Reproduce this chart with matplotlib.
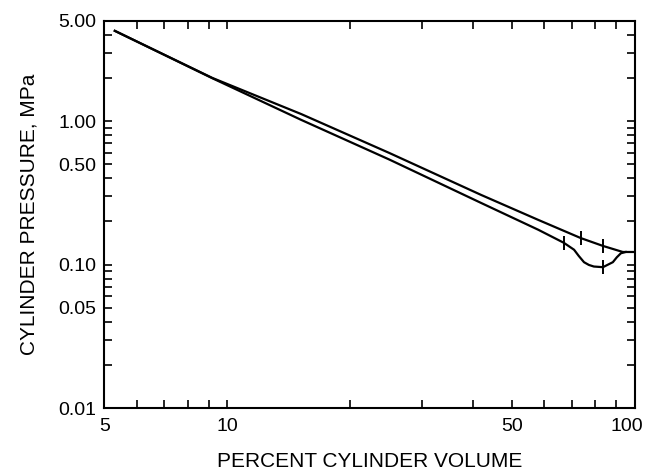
# Import libraries
import numpy as np
import matplotlib
matplotlib.use("Agg")
import matplotlib.pyplot as plt
import matplotlib.transforms as mtransforms
from matplotlib.ticker import FixedLocator, LogLocator, NullFormatter, FixedFormatter

# Creating dataset
upper_x = [5.3, 9.2, 15.2, 25, 42, 58, 73.8, 83.6, 93.5, 100]
upper_y = [4.26, 2.0, 1.12, 0.60, 0.306, 0.205, 0.153, 0.135, 0.1225, 0.1225]

lower_x = [5.3, 9.2, 15.2, 25, 42, 58, 67, 71, 72.9, 75.1, 77.2, 79.4,
           83.6, 85.7, 88.4, 90.4, 92.5, 95]
lower_y = [4.26, 1.99, 1.02, 0.54, 0.269, 0.175, 0.142, 0.127, 0.115, 0.104,
           0.0995, 0.097, 0.096, 0.0995, 0.104, 0.1125, 0.12, 0.1225]

# small marks drawn across the curves
mark_x = [73.8, 83.6, 67, 83.6]
mark_y = [0.153, 0.135, 0.142, 0.096]

x_ticks = [5, 10, 50, 100]
x_labels = ["5", "10", "50", "100"]
y_ticks = [5, 1, 0.5, 0.1, 0.05, 0.01]
y_labels = ["5.00", "1.00", "0.50", "0.10", "0.05", "0.01"]

plt.rcParams['font.family'] = ['Liberation Sans', 'DejaVu Sans']

# Creating plot
fig = plt.figure(figsize=(6.45, 4.74), dpi=100)
ax = fig.add_axes([0.162, 0.139, 0.822, 0.817])

ax.plot(upper_x, upper_y, color="black", lw=1.6)
ax.plot(lower_x, lower_y, color="black", lw=1.6)
ax.plot(mark_x, mark_y, linestyle="none", marker="|", markersize=10,
        markeredgewidth=1.4, color="black")

ax.set_xscale("log")
ax.set_yscale("log")
ax.set_xlim(5, 100)
ax.set_ylim(0.01, 5)

ax.xaxis.set_major_locator(FixedLocator(x_ticks))
ax.xaxis.set_major_formatter(FixedFormatter(x_labels))
ax.xaxis.set_minor_locator(LogLocator(base=10, subs=np.arange(1, 10)))
ax.xaxis.set_minor_formatter(NullFormatter())
ax.yaxis.set_major_locator(FixedLocator(y_ticks))
ax.yaxis.set_major_formatter(FixedFormatter(y_labels))
ax.yaxis.set_minor_locator(LogLocator(base=10, subs=np.arange(1, 10)))
ax.yaxis.set_minor_formatter(NullFormatter())

ax.tick_params(which="both", direction="in", top=True, right=True,
               length=6, width=1.2, labelsize=14, color="black")
ax.tick_params(axis="x", pad=7)
ax.tick_params(axis="y", pad=6)

# nudge the "100" label left so it stays inside the figure
last = ax.get_xticklabels()[-1]
last.set_transform(last.get_transform() +
                   mtransforms.ScaledTranslation(-0.08, 0, fig.dpi_scale_trans))

for s in ax.spines.values():
    s.set_linewidth(1.5)

ax.set_xlabel("PERCENT CYLINDER VOLUME", fontsize=15, labelpad=12)
ax.set_ylabel("CYLINDER PRESSURE, MPa", fontsize=15, labelpad=14)

# save plot
fig.savefig("out.png", dpi=100)
